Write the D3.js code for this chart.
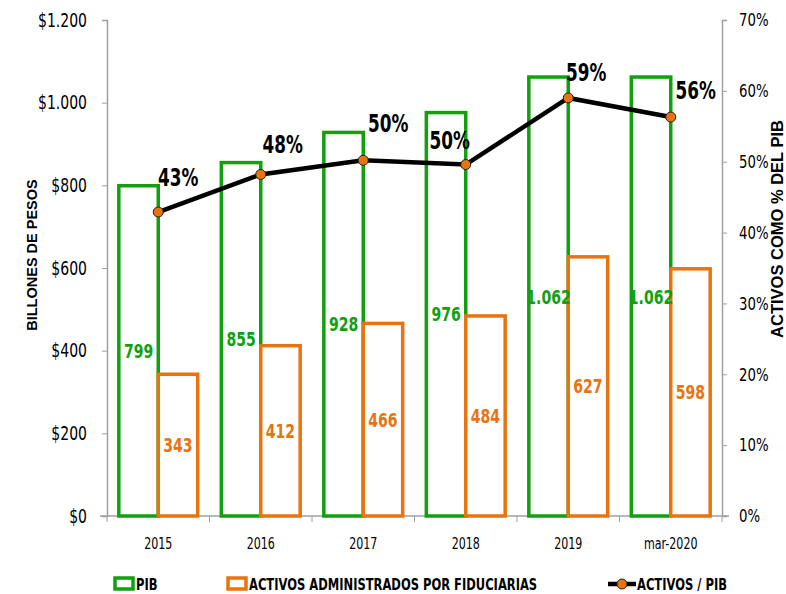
<!DOCTYPE html>
<html>
<head>
<meta charset="utf-8">
<script src="https://cdn.jsdelivr.net/npm/d3@7"></script>
<style>
  body { margin: 0; background: #fff; }
  svg text { font-family: "DejaVu Sans Condensed", "DejaVu Sans", sans-serif; font-stretch: condensed; }
</style>
</head>
<body>
<svg id="chart" width="786" height="594"></svg>
<script>
const categories = ['2015', '2016', '2017', '2018', '2019', 'mar-2020'];
const pib = [799, 855, 928, 976, 1062, 1062];
const activos = [343, 412, 466, 484, 627, 598];
const ratio = [42.9, 48.2, 50.2, 49.6, 59.0, 56.3];
const ratioLabels = ['43%', '48%', '50%', '50%', '59%', '56%'];
const leftTicks = [0, 200, 400, 600, 800, 1000, 1200];
const rightTicks = [0, 10, 20, 30, 40, 50, 60, 70];

const GREEN = '#10a010', ORANGE = '#e8730f', AXIS = '#a0a0a0';

const svg = d3.select('#chart');
const x = d3.scaleBand().domain(categories).range([107, 722]);
const xInner = d3.scaleBand().domain(['pib', 'activos']).range([0, x.bandwidth()]).paddingOuter(0.3);
const y = d3.scaleLinear().domain([0, 1200]).range([516, 20]);
const yR = d3.scaleLinear().domain([0, 70]).range([516, 20]);

const fmt = v => v.toLocaleString('de-DE');

// squeeze text horizontally, the original font is a narrow one
function narrow(sel, k) {
  sel.each(function () {
    const t = d3.select(this);
    const w = this.getComputedTextLength();
    t.attr('textLength', w * k).attr('lengthAdjust', 'spacingAndGlyphs');
  });
}

// left axis
const gl = svg.append('g').attr('transform', 'translate(107,0)')
  .call(d3.axisLeft(y).tickValues(leftTicks).tickSize(5).tickPadding(15).tickFormat(d => '$' + fmt(d)));
gl.selectAll('text').attr('font-size', 19).attr('fill', '#000');

// right axis
const gr = svg.append('g').attr('transform', 'translate(722,0)')
  .call(d3.axisRight(yR).tickValues(rightTicks).tickSize(5).tickPadding(12).tickFormat(d => d + '%'));
gr.selectAll('text').attr('font-size', 18).attr('fill', '#000');

[gl, gr].forEach(g => {
  g.select('.domain').attr('stroke', AXIS).attr('stroke-width', 1.5);
  g.selectAll('.tick line').attr('stroke', AXIS);
});

// x axis
svg.append('line').attr('x1', 100).attr('x2', 729).attr('y1', 516).attr('y2', 516)
  .attr('stroke', AXIS).attr('stroke-width', 1.5);
svg.selectAll('.xtick').data(categories.concat(['end'])).join('line')
  .attr('x1', (d, i) => 107 + i * x.step()).attr('x2', (d, i) => 107 + i * x.step())
  .attr('y1', 516).attr('y2', 522).attr('stroke', AXIS);
const xl = svg.selectAll('.xlab').data(categories).join('text')
  .attr('x', d => x(d) + x.bandwidth() / 2).attr('y', 549)
  .attr('text-anchor', 'middle').attr('font-size', 15).text(d => d);

// bars
const groups = svg.selectAll('.grp').data(categories).join('g')
  .attr('transform', d => `translate(${x(d)},0)`);
groups.append('rect')
  .attr('x', xInner('pib')).attr('width', xInner.bandwidth())
  .attr('y', (d, i) => y(pib[i])).attr('height', (d, i) => y(0) - y(pib[i]))
  .attr('fill', '#fff').attr('stroke', GREEN).attr('stroke-width', 3.5);
groups.append('rect')
  .attr('x', xInner('activos')).attr('width', xInner.bandwidth())
  .attr('y', (d, i) => y(activos[i])).attr('height', (d, i) => y(0) - y(activos[i]))
  .attr('fill', '#fff').attr('stroke', ORANGE).attr('stroke-width', 3.5);
const gLab = groups.append('text')
  .attr('x', xInner('pib') + xInner.bandwidth() / 2)
  .attr('y', (d, i) => (y(pib[i]) + y(0)) / 2 + 7)
  .attr('text-anchor', 'middle').attr('font-size', 20).attr('font-weight', 'bold')
  .attr('fill', GREEN).text((d, i) => fmt(pib[i]));
const oLab = groups.append('text')
  .attr('x', xInner('activos') + xInner.bandwidth() / 2)
  .attr('y', (d, i) => (y(activos[i]) + y(0)) / 2 + 7)
  .attr('text-anchor', 'middle').attr('font-size', 20).attr('font-weight', 'bold')
  .attr('fill', ORANGE).text((d, i) => fmt(activos[i]));

// ratio line
const cx = d => x(d) + x.bandwidth() / 2;
svg.append('path')
  .datum(categories)
  .attr('d', d3.line().x(cx).y((d, i) => yR(ratio[i])))
  .attr('fill', 'none').attr('stroke', '#000').attr('stroke-width', 4.5);
svg.selectAll('.pt').data(categories).join('circle')
  .attr('cx', cx).attr('cy', (d, i) => yR(ratio[i])).attr('r', 5)
  .attr('fill', ORANGE).attr('stroke', '#222').attr('stroke-width', 1);

const labelOff = [[20, -26], [22, -21], [25, -28], [-16, -16], [18, -17], [25, -18]];
const rl = svg.selectAll('.rl').data(categories).join('text')
  .attr('x', (d, i) => cx(d) + labelOff[i][0])
  .attr('y', (d, i) => yR(ratio[i]) + labelOff[i][1])
  .attr('text-anchor', 'middle').attr('font-size', 24).attr('font-weight', 'bold')
  .text((d, i) => ratioLabels[i]);

// axis titles
svg.append('text').attr('transform', 'translate(37,255) rotate(-90)')
  .attr('text-anchor', 'middle').attr('font-size', 14.5).attr('font-weight', 'bold')
  .style('font-family', '"Liberation Sans", Arial, sans-serif').style('font-stretch', 'normal')
  .text('BILLONES DE PESOS');
svg.append('text').attr('transform', 'translate(783,229) rotate(-90)')
  .attr('text-anchor', 'middle').attr('font-size', 16.5).attr('font-weight', 'bold')
  .style('font-family', '"Liberation Sans", Arial, sans-serif').style('font-stretch', 'normal')
  .text('ACTIVOS COMO % DEL PIB');

// legend
const leg = svg.append('g').attr('font-size', 16).attr('font-weight', 'bold');
leg.append('rect').attr('x', 115).attr('y', 578).attr('width', 18).attr('height', 11)
  .attr('fill', '#fff').attr('stroke', GREEN).attr('stroke-width', 3.5);
const l1 = leg.append('text').attr('x', 136).attr('y', 590).text('PIB');
leg.append('rect').attr('x', 228).attr('y', 578).attr('width', 18).attr('height', 11)
  .attr('fill', '#fff').attr('stroke', ORANGE).attr('stroke-width', 3.5);
const l2 = leg.append('text').attr('x', 249).attr('y', 590).text('ACTIVOS ADMINISTRADOS POR FIDUCIARIAS');
leg.append('line').attr('x1', 608).attr('x2', 636).attr('y1', 584).attr('y2', 584)
  .attr('stroke', '#000').attr('stroke-width', 4.5);
leg.append('circle').attr('cx', 622).attr('cy', 584).attr('r', 5)
  .attr('fill', ORANGE).attr('stroke', '#222');
const l3 = leg.append('text').attr('x', 637).attr('y', 590).text('ACTIVOS / PIB');

// target widths
narrow(gl.selectAll('text'), 0.82);
narrow(gr.selectAll('text'), 0.82);
narrow(xl, 0.82);
narrow(gLab, 0.78);
narrow(oLab, 0.78);
narrow(rl, 0.78);
narrow(l1, 0.8);
narrow(l2, 0.8);
narrow(l3, 0.8);
</script>
</body>
</html>
